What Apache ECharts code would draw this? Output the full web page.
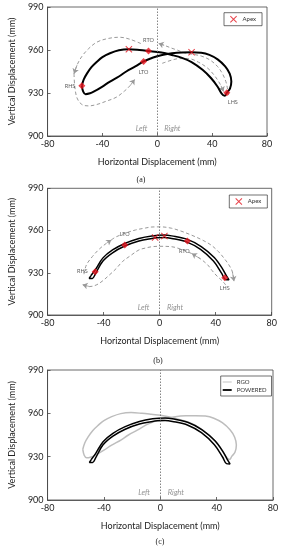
<!DOCTYPE html>
<html>
<head>
<meta charset="utf-8">
<script src="https://cdn.jsdelivr.net/npm/echarts@6/dist/echarts.min.js"></script>
<style>
html,body{margin:0;padding:0;background:#fff;}
#chart{width:282px;height:550px;}
</style>
</head>
<body>
<div id="chart"></div>
<script>
// ---------- data ----------
const xTicks = [-80, -40, 0, 40, 80];
const yTicks = [900, 930, 960, 990];
const captions = ['(a)', '(b)', '(c)'];
const sideLabels = ['Left', 'Right'];
const sideX = [-11.5, 11];
const sideY = 905;

// RGO trajectory (panel a, and grey in panel c)
const rgoLoop = [
  [-55,935],[-54,931],[-52.3,929.2],[-49,929.8],[-46.4,930.9],[-40,934.5],[-34.5,938],[-28,941.5],
  [-22.6,945],[-16,948.5],[-10,952],[-3,954.8],[3.6,956.5],[10.7,957.7],[18,958.3],[25,958.4],
  [32,958.1],[38,956.6],[44,953.5],[49.5,948.6],[52.8,943.5],[54,938],[53,933],[50.7,930.2],
  [49.2,928],[46.8,929.8],[44,934.4],[39.3,940.3],[33,946.2],[25,951.6],[18,954.5],[10.7,956.5],
  [3,958.2],[-6.4,959.3],[-13,960],[-20.7,960.5],[-28,959.8],[-34.5,957.7],[-40,955],[-44,951.8],
  [-48,948],[-51.2,943.7],[-53.6,939.5],[-55,935]
];
const rgoEventNames = ['RHS', 'RTO', 'LTO', 'LHS'];
const rgoEvents = [[-55,935],[-6.4,959.3],[-10,952],[50.7,930.2]];
const rgoApex = [[-20.7,960.5],[25,958.4]];

// POWERED trajectory (panel b, and black in panel c)
const poweredLoop = [
  [-49,928],[-45.8,932.3],[-40.6,940.4],[-33.6,946.2],[-24.9,950.8],[-14.8,954.4],[-5.5,956.2],
  [3.4,956.8],[8.6,956.2],[19.8,953.7],[29.7,948.6],[39,940.8],[44.9,932.8],[47.6,928],[49.5,925],
  [47,925.2],[44.3,929.6],[38.4,938.3],[29.2,946.6],[19.6,951.8],[8.6,954.4],[3.4,955],[-2,954.8],
  [-5.5,954.4],[-14.8,952.6],[-24.9,949],[-33.6,944.2],[-40.6,938.2],[-45.8,929.3],[-48,926],
  [-50.3,926],[-49,928]
];
const poweredEventNames = ['RHS', 'LTO', 'RTO', 'LHS'];
const poweredEvents = [[-46,930.8],[-24.9,949.7],[19.8,952.6],[46.5,926.5]];
const poweredApex = [[-3.2,955],[3.4,956.1]];

// grey direction arrows, panel a
const arrowA1 = [[-12,964.5],[-20,967.5],[-27.4,968.9],[-36,968],[-44,965.5],[-50,961],[-55,955.5],[-58.5,949.5],[-60.7,943.5]];
const arrowA2 = [[-60.7,943.5],[-60.2,935],[-58.5,926.5],[-55,922],[-50,921],[-44,922],[-38,924],[-30,927],[-24,931.3],[-19.5,935.5],[-16.5,939.5]];
const arrowA3 = [[52,928.5],[51,934],[50,938],[47.5,943.5],[44,948.4],[38.5,953],[32,955.8],[26,957],[20,958],[15,959.8],[10.7,961.2],[5,963.3],[1,964.6]];
const arrowA4 = [[3.6,950.7],[10.7,953],[16,954],[22.6,954],[30,951.5],[36.9,947.2],[41,943],[44,939.1],[46.5,935],[48.3,931]];
// grey direction arrows, panel b
const arrowB1 = [[-54,929],[-52.3,935.5],[-48,941.5],[-42.9,947],[-37.5,951.3],[-34.5,953.3]];
const arrowB2 = [[-34.5,953.3],[-31.3,955.4],[-24,958.3],[-17.2,960.4],[-10,961.8],[-5.5,962.5],[1,962.6],[8.6,961.6],[15,959.7],[22.6,956.8],[30,953.5],[36.7,949.7],[42,945],[46,940.3],[49.5,935.5],[51.9,930.8],[53.1,924]];
const arrowB3 = [[47.2,921.3],[44.5,924.5],[41.4,927.2],[37.5,931.5],[34.4,935.5],[29,940],[23,943.6]];
const arrowB4 = [[23,943.6],[15,946.8],[8.6,948.5],[0,948.8],[-5.5,948.5],[-10,947.6],[-14.8,946.2],[-21,942],[-26.6,937.9],[-31,933],[-35.9,928.4],[-41,924],[-45.3,921.3],[-50,920.2],[-55,921.5]];

// ---------- styling / layout ----------
const FONT = 'Lato';
const RED = '#e3121b';
const GREY_DASH = '#999999';
const crossPath = 'path://M0,1L1,0L5,4L9,0L10,1L6,5L10,9L9,10L5,6L1,10L0,9L4,5Z';

const grids = [
  {left: 43, width: 224, top: 7, height: 129},
  {left: 44, width: 227.7, top: 188.3, height: 126.7},
  {left: 43.5, width: 229.5, top: 370, height: 130}
];
const captionPos = [[141, 176], [158, 357], [160, 538]];

const chart = echarts.init(document.getElementById('chart'), null, {renderer: 'canvas'});

const xAxes = grids.map((g, i) => ({
  gridIndex: i, type: 'value',
  min: xTicks[0], max: xTicks[xTicks.length - 1], interval: xTicks[1] - xTicks[0],
  name: 'Horizontal Displacement (mm)', nameLocation: 'middle', nameGap: 22,
  nameTextStyle: {fontFamily: FONT, fontSize: 9, color: '#222'},
  axisLine: {show: true, onZero: false, lineStyle: {color: '#444', width: 0.8}},
  axisTick: {show: true, inside: true, length: 3, lineStyle: {color: '#444', width: 0.8}},
  axisLabel: {fontFamily: FONT, fontSize: 9, color: '#222', margin: 4},
  splitLine: {show: false}
}));
const yAxes = grids.map((g, i) => ({
  gridIndex: i, type: 'value',
  min: yTicks[0], max: yTicks[yTicks.length - 1], interval: yTicks[1] - yTicks[0],
  name: 'Vertical Displacement (mm)', nameLocation: 'middle', nameGap: 25,
  nameTextStyle: {fontFamily: FONT, fontSize: 9, color: '#222'},
  axisLine: {show: true, onZero: false, lineStyle: {color: '#444', width: 0.8}},
  axisTick: {show: true, inside: true, length: 3, lineStyle: {color: '#444', width: 0.8}},
  axisLabel: {fontFamily: FONT, fontSize: 9, color: '#222', margin: 4},
  splitLine: {show: false}
}));

function loopSeries(name, data, idx, color, width) {
  return {
    name: name, type: 'line', xAxisIndex: idx, yAxisIndex: idx,
    data: data, smooth: 0.35, symbol: 'none', showSymbol: false,
    lineStyle: {color: color, width: width}, itemStyle: {color: color},
    z: 3, silent: true
  };
}
function dashSeries(pts, idx) {
  return [{
    type: 'line', xAxisIndex: idx, yAxisIndex: idx, data: pts, smooth: 0.35,
    symbol: 'none', showSymbol: false, silent: true, z: 2,
    lineStyle: {color: GREY_DASH, width: 1, type: [3.5, 2.5]}
  }, {
    type: 'lines', coordinateSystem: 'cartesian2d', xAxisIndex: idx, yAxisIndex: idx,
    polyline: false, silent: true, z: 2,
    symbol: ['none', 'arrow'], symbolSize: [0, 5],
    lineStyle: {color: GREY_DASH, width: 0.8, opacity: 1},
    data: [{coords: [pts[pts.length - 2], pts[pts.length - 1]]}]
  }];
}
function eventSeries(names, pts, idx, layouts) {
  return {
    type: 'scatter', xAxisIndex: idx, yAxisIndex: idx, symbol: 'diamond', symbolSize: 7,
    itemStyle: {color: RED}, z: 5, silent: true,
    data: pts.map((p, i) => ({
      value: p, name: names[i],
      label: Object.assign({show: true, formatter: '{b}', fontFamily: FONT, fontSize: 5.5, color: '#333'}, layouts[i])
    }))
  };
}
function apexSeries(pts, idx) {
  return {
    name: 'Apex', type: 'scatter', xAxisIndex: idx, yAxisIndex: idx,
    symbol: crossPath, symbolSize: 7, itemStyle: {color: RED}, z: 6, silent: true,
    data: pts
  };
}
function sideSeries(idx) {
  return {
    type: 'scatter', xAxisIndex: idx, yAxisIndex: idx, symbolSize: 0, silent: true, z: 4,
    data: sideLabels.map((t, i) => ({value: [sideX[i], sideY], name: t})),
    label: {show: true, position: 'inside', formatter: '{b}', fontFamily: FONT, fontStyle: 'italic',
            fontSize: 7.5, color: '#777'},
    markLine: {
      silent: true, symbol: ['none', 'none'], label: {show: false},
      lineStyle: {type: [1.5, 1.5], color: '#777', width: 0.9},
      data: [{xAxis: 0}], animation: false
    }
  };
}

const layoutA = [
  {position: 'left', distance: 3},
  {position: 'top', distance: 4},
  {position: 'bottom', distance: 4},
  {position: 'bottom', distance: 3, offset: [6, 0]}
];
const layoutB = [
  {position: 'left', distance: 4},
  {position: 'top', distance: 4},
  {position: 'bottom', distance: 4, offset: [-3, 0]},
  {position: 'bottom', distance: 4}
];

const series = [].concat(
  [sideSeries(0), sideSeries(1), sideSeries(2)],
  dashSeries(arrowA1, 0), dashSeries(arrowA2, 0), dashSeries(arrowA3, 0), dashSeries(arrowA4, 0),
  dashSeries(arrowB1, 1), dashSeries(arrowB2, 1), dashSeries(arrowB3, 1), dashSeries(arrowB4, 1),
  [
    loopSeries('RGO path', rgoLoop, 0, '#000', 2),
    eventSeries(rgoEventNames, rgoEvents, 0, layoutA),
    apexSeries(rgoApex, 0),
    loopSeries('POWERED path', poweredLoop, 1, '#000', 1.5),
    eventSeries(poweredEventNames, poweredEvents, 1, layoutB),
    apexSeries(poweredApex, 1),
    loopSeries('RGO', rgoLoop, 2, '#bdbdbd', 1.5),
    loopSeries('POWERED', poweredLoop, 2, '#000', 1.5)
  ]
);

const legendBase = {
  borderColor: '#333', borderWidth: 0.7, backgroundColor: '#fff',
  textStyle: {fontFamily: FONT, fontSize: 6, color: '#333'},
  selectedMode: false, symbolKeepAspect: true
};

chart.setOption({
  animation: false,
  backgroundColor: '#fff',
  grid: grids.map(g => Object.assign({show: true, borderColor: '#444', borderWidth: 0.8, backgroundColor: 'transparent'}, g)),
  xAxis: xAxes,
  yAxis: yAxes,
  title: captions.map((c, i) => ({
    text: c, left: captionPos[i][0], top: captionPos[i][1], textAlign: 'center',
    padding: 0,
    textStyle: {fontFamily: 'Liberation Serif', fontSize: 8, fontWeight: 'normal', color: '#222'}
  })),
  legend: [
    Object.assign({}, legendBase, {data: ['Apex'], left: 224, top: 12.7, padding: [3, 6, 3, 6], itemWidth: 8, itemHeight: 7}),
    Object.assign({}, legendBase, {data: ['Apex'], left: 229.3, top: 195, padding: [3, 6, 3, 6], itemWidth: 8, itemHeight: 7}),
    Object.assign({}, legendBase, {
      data: [
        {name: 'RGO', icon: 'path://M0,0H20V2H0Z'},
        {name: 'POWERED', icon: 'path://M0,0H20V4H0Z'}
      ],
      left: 220.7, top: 376, orient: 'vertical',
      padding: [3, 5, 3, 2], itemGap: 2, itemWidth: 9, itemHeight: 6})
  ],
  series: series
});
</script>
</body>
</html>
